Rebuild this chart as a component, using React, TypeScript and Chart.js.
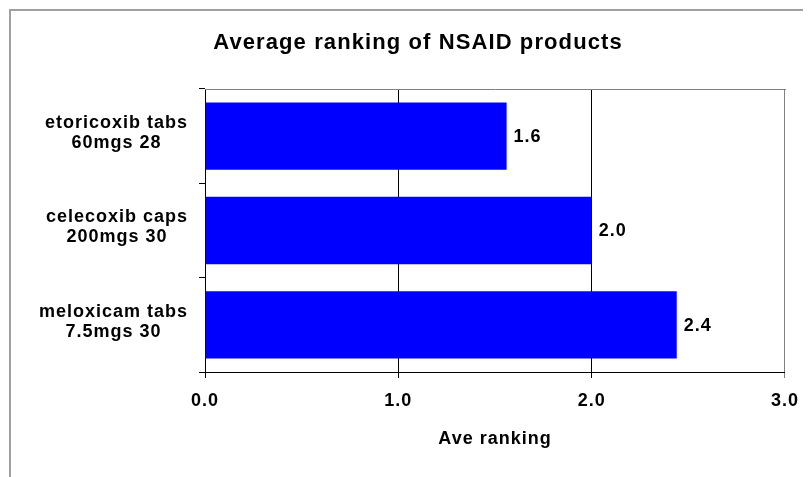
import React, { useEffect, useRef } from "react";
import { Chart, registerables } from "chart.js";

Chart.register(...registerables);

const TITLE = "Average ranking of NSAID products";
const CATEGORIES: string[][] = [
  ["etoricoxib tabs", "60mgs 28"],
  ["celecoxib caps", "200mgs 30"],
  ["meloxicam tabs", "7.5mgs 30"],
];
const VALUES: number[] = [1.56, 2.0, 2.44];
const X_TICKS: number[] = [0, 1, 2, 3];
const X_TITLE = "Ave ranking";

const FONT = "'Liberation Sans', Arial, Helvetica, sans-serif";

export default function App() {
  const ref = useRef<HTMLCanvasElement | null>(null);

  useEffect(() => {
    if (!ref.current) return;

    const spacingPlugin = {
      id: "spacing",
      beforeUpdate(chart: any) {
        (chart.ctx as any).letterSpacing = "1px";
      },
      beforeDraw(chart: any) {
        (chart.ctx as any).letterSpacing = "1px";
      },
    };

    const framePlugin = {
      id: "frame",
      beforeDraw(chart: any) {
        const ctx = chart.ctx;
        ctx.save();
        ctx.strokeStyle = "#a0a0a0";
        ctx.lineWidth = 2;
        ctx.beginPath();
        ctx.moveTo(2, chart.height);
        ctx.lineTo(2, 2);
        ctx.lineTo(chart.width, 2);
        ctx.stroke();
        ctx.restore();
      },
      afterDraw(chart: any) {
        const ctx = chart.ctx;
        const a = chart.chartArea;
        ctx.save();
        ctx.strokeStyle = "#808080";
        ctx.lineWidth = 1;
        ctx.beginPath();
        ctx.moveTo(Math.round(a.left), Math.round(a.top) + 0.5);
        ctx.lineTo(Math.round(a.right) + 1, Math.round(a.top) + 0.5);
        ctx.stroke();
        // title
        ctx.fillStyle = "#000";
        ctx.font = `bold 22px ${FONT}`;
        (ctx as any).letterSpacing = "1.1px";
        ctx.textAlign = "center";
        ctx.textBaseline = "middle";
        ctx.fillText(TITLE, 410, 35);
        // category labels: each block right-aligned, lines centered within block
        ctx.font = `bold 18px ${FONT}`;
        (ctx as any).letterSpacing = "1px";
        const yScale = chart.scales.y;
        const rightEdge = yScale.right - 17;
        CATEGORIES.forEach((lines, i) => {
          const cy = yScale.getPixelForValue(i) - 3;
          const blockW = Math.max(...lines.map((l) => ctx.measureText(l).width));
          const cx = rightEdge - blockW / 2;
          const lh = 20;
          lines.forEach((line, j) => {
            const y = cy + (j - (lines.length - 1) / 2) * lh;
            ctx.fillText(line, cx, y);
          });
        });
        ctx.restore();
      },
    };

    const labelPlugin = {
      id: "barLabels",
      afterDatasetsDraw(chart: any) {
        const ctx = chart.ctx;
        const meta = chart.getDatasetMeta(0);
        ctx.save();
        ctx.fillStyle = "#000";
        ctx.font = `bold 18px ${FONT}`;
        (ctx as any).letterSpacing = "1px";
        ctx.textAlign = "left";
        ctx.textBaseline = "middle";
        meta.data.forEach((bar: any, i: number) => {
          ctx.fillText(VALUES[i].toFixed(1), bar.x + 7, bar.y + 1);
        });
        ctx.restore();
      },
    };

    const chart = new Chart(ref.current, {
      type: "bar",
      data: {
        labels: CATEGORIES,
        datasets: [
          {
            data: VALUES,
            backgroundColor: "#0000ff",
            borderWidth: 0,
            barPercentage: 0.714,
            categoryPercentage: 1,
          },
        ],
      },
      options: {
        indexAxis: "y",
        responsive: false,
        animation: false,
        events: [],
        layout: { padding: { top: 81, right: 25, bottom: 25, left: 0 } },
        plugins: {
          legend: { display: false },
          title: { display: false },
          tooltip: { enabled: false },
        },
        scales: {
          x: {
            min: 0,
            max: 3,
            afterFit(scale: any) {
              scale.height = 80;
            },
            afterBuildTicks(scale: any) {
              scale.ticks = X_TICKS.map((v) => ({ value: v }));
            },
            ticks: {
              color: "#000",
              font: { family: FONT, size: 18, weight: "bold" },
              padding: 12,
              maxRotation: 0,
              callback: (v: any) => Number(v).toFixed(1),
            },
            grid: {
              color: (c: any) => (c.tick && c.tick.value === 3 ? "#808080" : "#000"),
              tickColor: (c: any) => (c.tick && c.tick.value === 3 ? "#808080" : "#000"),
              tickLength: 6,
              lineWidth: 1,
            },
            border: { color: "#000", width: 1 },
            title: {
              display: true,
              text: X_TITLE,
              color: "#000",
              font: { family: FONT, size: 18, weight: "bold" },
              padding: { top: 0, bottom: 2 },
            },
          },
          y: {
            afterFit(scale: any) {
              scale.width = 197;
            },
            ticks: {
              display: false,
            },
            grid: {
              offset: true,
              drawOnChartArea: false,
              color: "#000",
              tickColor: "#000",
              tickLength: 6,
            },
            border: { color: "#000", width: 1 },
          },
        },
      },
      plugins: [spacingPlugin, framePlugin, labelPlugin],
    } as any);

    return () => chart.destroy();
  }, []);

  return <canvas ref={ref} width={803} height={469} style={{ display: "block" }} />;
}
